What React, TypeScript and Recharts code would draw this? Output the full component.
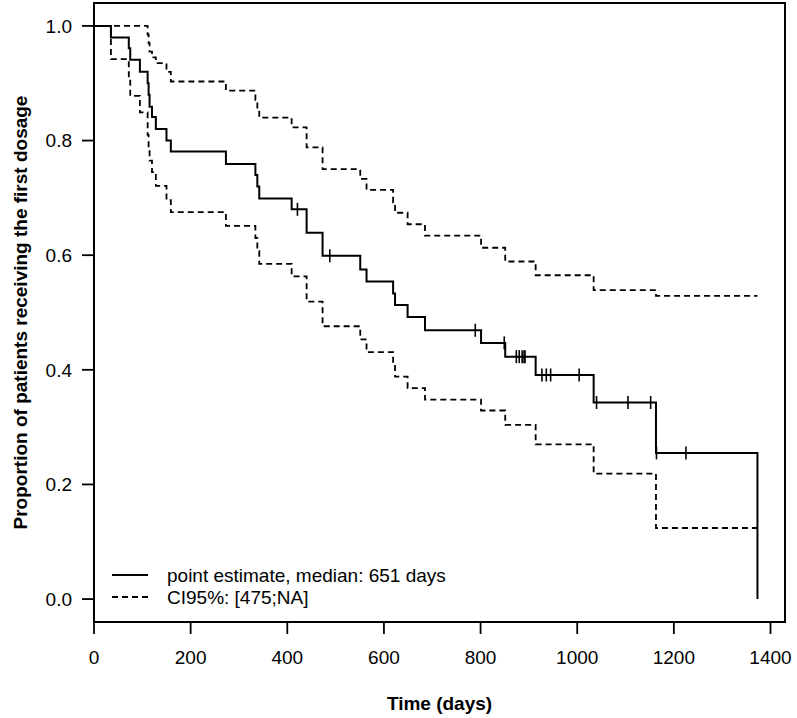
import React from 'react';
import { ComposedChart, Line, Scatter, XAxis, YAxis, ReferenceArea } from 'recharts';

// event times (days) and survival values right after each drop
const eventDays = [0, 35, 72, 75, 95, 111, 113, 115, 120, 128, 150, 159, 273, 334, 338, 342, 409, 440, 473, 551, 564, 619, 623, 649, 685, 801, 851, 914, 1034, 1163, 1373];
const pointEst = [1, 0.98, 0.961, 0.941, 0.92, 0.9, 0.88, 0.859, 0.841, 0.82, 0.8, 0.781, 0.759, 0.74, 0.72, 0.699, 0.68, 0.639, 0.599, 0.575, 0.554, 0.533, 0.513, 0.492, 0.469, 0.447, 0.423, 0.391, 0.343, 0.255, 0];
const upperCI = [1, 1, 1, 1, 1, 0.985, 0.97, 0.955, 0.945, 0.935, 0.92, 0.903, 0.887, 0.871, 0.855, 0.84, 0.823, 0.788, 0.75, 0.733, 0.714, 0.692, 0.674, 0.654, 0.634, 0.613, 0.589, 0.565, 0.539, 0.529, 0.529];
const lowerCI = [1, 0.942, 0.91, 0.878, 0.849, 0.81, 0.785, 0.765, 0.745, 0.721, 0.696, 0.675, 0.651, 0.63, 0.607, 0.585, 0.563, 0.519, 0.476, 0.453, 0.431, 0.409, 0.388, 0.368, 0.348, 0.329, 0.304, 0.27, 0.219, 0.124, 0.124];

// censored observations (days)
const censorDays = [421, 488, 789, 849, 874, 880, 886, 890, 892, 927, 936, 945, 1004, 1040, 1105, 1152, 1164, 1225];

const xTicks = [0, 200, 400, 600, 800, 1000, 1200, 1400];
const yTicks = [0, 0.2, 0.4, 0.6, 0.8, 1.0];

const FONT = '"Liberation Sans", Arial, sans-serif';

const rows = eventDays.map((t, i) => ({ t, s: pointEst[i], hi: upperCI[i], lo: lowerCI[i] }));

// survival level at a censor time = last step at or before it
const survAt = (t: number) => {
  let v = pointEst[0];
  eventDays.forEach((d, i) => {
    if (d <= t) v = pointEst[i];
  });
  return v;
};
const censorRows = censorDays.map((t) => ({ t, s: survAt(t) }));

const CensorMark = (props: any) => {
  const { cx, cy } = props;
  if (cx == null || cy == null) return null;
  return <line x1={cx} x2={cx} y1={cy - 6.5} y2={cy + 6.5} stroke="#000" strokeWidth={1.6} />;
};

export default function App() {
  return (
    <div style={{ position: 'absolute', left: 0, top: 0, width: 797, height: 718, background: '#fff', fontFamily: FONT }}>
      <ComposedChart width={797} height={718} data={rows} margin={{ top: 3, right: 12, left: 0, bottom: 0 }}>
        <XAxis
          type="number"
          dataKey="t"
          domain={[0, 1430]}
          ticks={xTicks}
          allowDataOverflow
          axisLine={false}
          tickSize={12}
          tickMargin={17}
          height={96}
          tickLine={{ stroke: '#000', strokeWidth: 1.8 }}
          tick={{ fill: '#000', fontSize: 19, fontFamily: FONT }}
          label={{ value: 'Time (days)', position: 'insideBottom', offset: 8, fill: '#000', fontSize: 19, fontWeight: 'bold', fontFamily: FONT }}
        />
        <YAxis
          type="number"
          domain={[-0.04, 1.04]}
          ticks={yTicks}
          allowDataOverflow
          axisLine={false}
          width={94}
          tickSize={12}
          tickMargin={10}
          tickFormatter={(v: number) => v.toFixed(1)}
          tickLine={{ stroke: '#000', strokeWidth: 1.8 }}
          tick={{ fill: '#000', fontSize: 19, fontFamily: FONT }}
          label={{
            value: 'Proportion of patients receiving the first dosage',
            angle: -90,
            position: 'insideLeft',
            offset: 20,
            fill: '#000',
            fontSize: 19,
            fontWeight: 'bold',
            fontFamily: FONT,
            style: { textAnchor: 'middle' },
          }}
        />
        <ReferenceArea x1={0} x2={1430} y1={-0.04} y2={1.04} fill="none" stroke="#000" strokeWidth={2} ifOverflow="visible" />
        <Line type="stepAfter" dataKey="hi" stroke="#000" strokeWidth={1.8} strokeDasharray="6 4" dot={false} isAnimationActive={false} />
        <Line type="stepAfter" dataKey="lo" stroke="#000" strokeWidth={1.8} strokeDasharray="6 4" dot={false} isAnimationActive={false} />
        <Line type="stepAfter" dataKey="s" stroke="#000" strokeWidth={2} dot={false} isAnimationActive={false} />
        <Scatter data={censorRows} dataKey="s" shape={<CensorMark />} isAnimationActive={false} />
      </ComposedChart>
      <div style={{ position: 'absolute', left: 0, top: 0, width: 797, height: 718, pointerEvents: 'none' }}>
        <svg width={797} height={718}>
          <line x1={112} x2={148} y1={575} y2={575} stroke="#000" strokeWidth={2} />
          <line x1={112} x2={148} y1={597} y2={597} stroke="#000" strokeWidth={1.8} strokeDasharray="6 4" />
          <text x={167} y={575} dy="0.35em" fontSize={19} fontFamily={FONT} fill="#000">
            point estimate, median: 651 days
          </text>
          <text x={167} y={597} dy="0.35em" fontSize={19} fontFamily={FONT} fill="#000">
            CI95%: [475;NA]
          </text>
        </svg>
      </div>
    </div>
  );
}
